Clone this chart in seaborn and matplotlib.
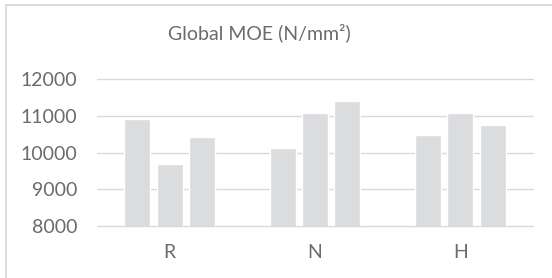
import numpy as np
import pandas as pd
import seaborn as sns
import matplotlib.pyplot as plt
from matplotlib.lines import Line2D

# values
groups = ['R', 'N', 'H']
series_a = [10910, 10130, 10475]
series_b = [9695, 11065, 11085]
series_c = [10430, 11400, 10755]
y_ticks = [8000, 9000, 10000, 11000, 12000]

bar_color = '#dbdcde'
grid_color = '#d9d9d9'
text_color = '#6b6b6b'

data = pd.DataFrame({
    'group': groups * 3,
    'series': ['a'] * 3 + ['b'] * 3 + ['c'] * 3,
    'value': series_a + series_b + series_c,
})

sns.set_style('white')
plt.rcParams['font.family'] = ['Lato', 'DejaVu Sans']

fig = plt.figure(figsize=(5.52, 2.78), dpi=100)
ax = fig.add_axes([97 / 552, 1 - 226 / 278, 436 / 552, 147 / 278])

sns.barplot(data=data, x='group', y='value', hue='series',
            palette=[bar_color] * 3, width=0.667, gap=0.2,
            saturation=1, legend=False, ax=ax, zorder=2)

ax.set_ylim(8000, 12000)
ax.set_yticks(y_ticks)
ax.set_xlim(-0.5, 2.5)
ax.set_xlabel('')
ax.set_ylabel('')

ax.set_axisbelow(True)
ax.yaxis.grid(True, color=grid_color, linewidth=1.0)
for gl in ax.yaxis.get_gridlines():
    gl.set_clip_on(False)
ax.xaxis.grid(False)
sns.despine(ax=ax, left=True, bottom=True)

ax.tick_params(axis='both', length=0, labelsize=14, colors=text_color)
ax.tick_params(axis='y', pad=14)
ax.tick_params(axis='x', pad=13)

fig.text(259 / 552, 1 - 33 / 278, 'Global MOE (N/mm²)', ha='center', va='center',
         fontsize=14, color=text_color)

# chart frame (only top and left edges show in the crop)
fig.add_artist(Line2D([6 / 552, 1], [1 - 5 / 278] * 2, transform=fig.transFigure,
                      color=grid_color, linewidth=1.3))
fig.add_artist(Line2D([6 / 552] * 2, [0, 1 - 5 / 278], transform=fig.transFigure,
                      color=grid_color, linewidth=1.3))

fig.savefig('out.png', dpi=100)
plt.close(fig)
